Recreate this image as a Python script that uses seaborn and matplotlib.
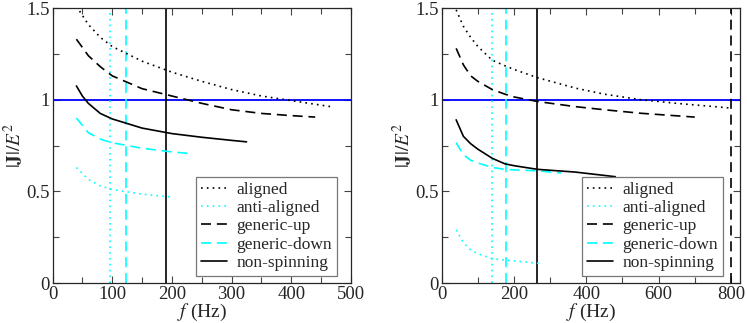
import matplotlib
matplotlib.use("Agg")
import matplotlib.pyplot as plt
import seaborn as sns
import pandas as pd
from matplotlib.ticker import MultipleLocator

sns.set_theme(style="ticks")
plt.rcParams['font.family'] = ['Liberation Serif', 'DejaVu Serif']
plt.rcParams['mathtext.fontset'] = 'stix'

labels = ["aligned", "anti-aligned", "generic-up", "generic-down", "non-spinning"]

# ---- left panel data ----
L_aligned_f = [40, 60, 80, 100, 150, 200, 250, 300, 350, 400, 470]
L_aligned_y = [1.51, 1.41, 1.34, 1.29, 1.21, 1.15, 1.10, 1.055, 1.02, 0.995, 0.96]
L_anti_f = [40, 60, 80, 100, 150, 196]
L_anti_y = [0.63, 0.565, 0.53, 0.51, 0.485, 0.47]
L_up_f = [40, 60, 80, 100, 150, 200, 250, 300, 350, 400, 440]
L_up_y = [1.33, 1.24, 1.18, 1.13, 1.06, 1.02, 0.98, 0.945, 0.925, 0.913, 0.905]
L_down_f = [40, 60, 80, 100, 150, 200, 235]
L_down_y = [0.90, 0.82, 0.785, 0.765, 0.735, 0.715, 0.705]
L_non_f = [40, 50, 60, 80, 100, 150, 200, 250, 300, 325]
L_non_y = [1.075, 1.02, 0.98, 0.925, 0.895, 0.845, 0.815, 0.795, 0.778, 0.77]
L_vlines = [96, 123, 189.5]          # anti-aligned, generic-down, non-spinning

# ---- right panel data ----
R_aligned_f = [40, 60, 80, 100, 140, 175, 200, 265, 370, 450, 550, 650, 795]
R_aligned_y = [1.49, 1.40, 1.34, 1.29, 1.215, 1.185, 1.165, 1.12, 1.063, 1.03, 1.0, 0.98, 0.955]
R_anti_f = [40, 60, 80, 100, 140, 175, 230, 280]
R_anti_y = [0.29, 0.22, 0.18, 0.16, 0.133, 0.125, 0.115, 0.105]
R_up_f = [40, 60, 80, 100, 140, 175, 200, 265, 370, 450, 550, 700]
R_up_y = [1.28, 1.19, 1.13, 1.10, 1.055, 1.03, 1.015, 0.99, 0.962, 0.945, 0.926, 0.905]
R_down_f = [40, 60, 80, 100, 140, 175, 200, 265, 330]
R_down_y = [0.765, 0.70, 0.67, 0.655, 0.63, 0.62, 0.617, 0.612, 0.60]
R_non_f = [40, 60, 80, 100, 140, 175, 200, 265, 370, 480]
R_non_y = [0.89, 0.80, 0.76, 0.73, 0.68, 0.65, 0.64, 0.62, 0.605, 0.58]
R_vlines = [138, 178, 264.5, 799]    # anti-aligned, generic-down, non-spinning, generic-up

CYAN = "#00ffff"
DOT = (0, (1, 2.5))
DASH = (0, (6, 3.5))
styles = {
    "aligned": ("black", DOT),
    "anti-aligned": (CYAN, DOT),
    "generic-up": ("black", DASH),
    "generic-down": (CYAN, DASH),
    "non-spinning": ("black", "-"),
}

fig = plt.figure(figsize=(7.47, 3.23), dpi=100)
axL = fig.add_axes([0.0703, 0.1238, 0.3996, 0.8514])
axR = fig.add_axes([0.5913, 0.1238, 0.3993, 0.8514])

def draw(ax, curves, vlines, vstyles, xmax, xmajor, xminor, legend_anchor):
    ax.axhline(1.0, color="blue", lw=1.3, zorder=1)
    for x, key in zip(vlines, vstyles):
        c, ls = styles[key]
        ax.axvline(x, color=c, linestyle=ls, lw=1.2, zorder=1)
    for key, (fx, fy) in zip(labels, curves):
        c, ls = styles[key]
        df = pd.DataFrame({"f": fx, "J": fy})
        sns.lineplot(data=df, x="f", y="J", ax=ax, color=c, lw=1.2, sort=False,
                     estimator=None, label=key)
        ax.lines[-1].set_linestyle(ls)
    ax.set_xlim(0, xmax)
    ax.set_ylim(0, 1.5)
    ax.xaxis.set_major_locator(MultipleLocator(xmajor))
    ax.xaxis.set_minor_locator(MultipleLocator(xminor))
    ax.yaxis.set_minor_locator(MultipleLocator(0.25))
    ax.set_yticks([0, 0.5, 1, 1.5])
    ax.set_yticklabels(["0", "0.5", "1", "1.5"])
    ax.tick_params(which="both", direction="in", top=True, right=True,
                   labelsize=13.5, pad=2, width=0.8, color="#444444")
    ax.tick_params(which="major", length=5)
    ax.tick_params(which="minor", length=4)
    for s in ax.spines.values():
        s.set_linewidth(0.9)
    ax.set_xlabel(r"$f$ (Hz)", fontsize=14, labelpad=-1)
    ax.set_ylabel(r"$|\mathbf{J}|/E^2$", fontsize=14, labelpad=1)
    leg = ax.legend(loc="lower right", bbox_to_anchor=legend_anchor,
                    fontsize=12.5, frameon=True, fancybox=False, framealpha=1,
                    edgecolor="#777777", handlelength=1.45, handletextpad=0.55,
                    labelspacing=0.12, borderpad=0.3, borderaxespad=0)
    leg.get_frame().set_linewidth(0.9)
    for h, key in zip(leg.get_lines(), labels):
        c, ls = styles[key]
        h.set_linestyle(ls)
        h.set_color(c)

draw(axL,
     [(L_aligned_f, L_aligned_y), (L_anti_f, L_anti_y), (L_up_f, L_up_y),
      (L_down_f, L_down_y), (L_non_f, L_non_y)],
     L_vlines, ["anti-aligned", "generic-down", "non-spinning"],
     500, 100, 50, (0.953, 0.025))
draw(axR,
     [(R_aligned_f, R_aligned_y), (R_anti_f, R_anti_y), (R_up_f, R_up_y),
      (R_down_f, R_down_y), (R_non_f, R_non_y)],
     R_vlines, ["anti-aligned", "generic-down", "non-spinning", "generic-up"],
     825, 200, 100, (0.943, 0.025))

fig.savefig("out.png", dpi=100)
